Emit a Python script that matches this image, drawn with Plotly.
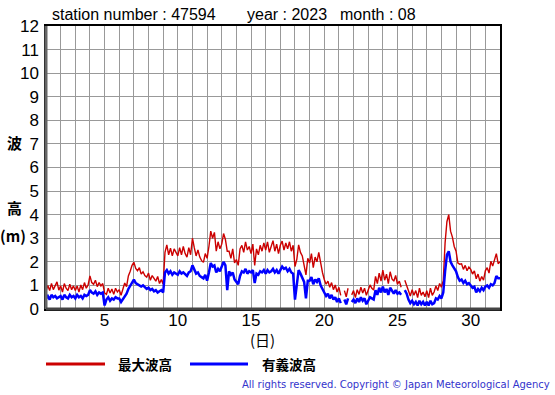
import numpy as np
import plotly.graph_objects as go

# 3-hourly values, Aug 1 00h .. Sep 1 00h (day-of-month axis 1..32)
hmax = [
    0.75, 1.00, 0.78, 1.08, 0.82, 0.98, 1.15, 0.80,   # 1
    0.98, 0.72, 1.08, 0.88, 0.78, 1.05, 0.82, 0.98,   # 2
    0.78, 0.98, 0.72, 1.02, 0.82, 1.12, 0.88, 1.02,   # 3
    1.40, 1.12, 1.05, 1.22, 0.95, 1.12, 0.98, 1.08,   # 4
    0.68, 0.62, 0.88, 0.68, 0.85, 0.62, 0.88, 0.72,   # 5
    0.82, 0.58, 0.88, 1.10, 0.95, 1.40, 1.60, 1.85,   # 6
    1.98, 1.72, 1.62, 1.75, 1.48, 1.58, 1.42, 1.35,   # 7
    1.52, 1.22, 1.42, 1.28, 1.18, 1.38, 1.08, 1.25,   # 8
    1.05, 2.40, 2.72, 2.30, 2.58, 2.25, 2.55, 2.40,   # 9
    2.25, 2.60, 2.30, 2.65, 2.35, 2.20, 2.60, 2.30,   # 10
    3.00, 2.60, 2.25, 2.50, 2.20, 2.05, 1.98, 2.35,   # 11
    2.15, 2.65, 3.30, 3.00, 3.25, 2.45, 2.85, 2.55,   # 12
    2.75, 3.20, 2.95, 2.45, 2.45, 2.15, 2.55, 1.95,   # 13
    2.10, 1.85, 2.55, 2.70, 2.40, 2.85, 2.50, 2.65,   # 14
    2.35, 2.75, 1.85, 2.55, 2.30, 2.70, 2.45, 2.80,   # 15
    2.50, 2.85, 2.40, 2.65, 2.90, 2.45, 2.75, 2.35,   # 16
    2.70, 2.88, 2.50, 2.80, 2.55, 2.85, 2.45, 2.70,   # 17
    1.80, 2.10, 2.72, 2.40, 2.25, 1.85, 1.45, 2.15,   # 18
    1.95, 2.35, 1.75, 2.20, 2.00, 2.40, 1.90, 1.55,   # 19
    1.25, 1.05, 1.18, 0.92, 1.12, 0.82, 1.02, 0.72,   # 20
    0.92, 0.58, None, 0.78, 0.52, 0.88, None, 0.60,   # 21
    0.78, 0.48, 0.82, 0.62, 0.92, 0.68, 0.88, 0.58,   # 22
    0.78, 1.02, 0.88, 0.80, 1.38, 1.08, 1.52, 1.18,   # 23
    1.65, 1.22, 1.48, 1.08, 1.58, 1.28, 1.18, 1.42,   # 24
    1.05, 1.18, 0.92, None, 1.22, 1.02, 0.80, 0.55,   # 25
    0.82, 0.58, 0.78, 0.48, 0.88, 0.58, 0.72, 0.52,   # 26
    0.78, 0.48, 0.88, 0.58, 0.72, 0.98, 0.78, 1.08,   # 27
    0.92, 1.20, 2.80, 3.70, 4.00, 3.30, 3.05, 2.65,   # 28
    2.45, 1.95, 1.90, 1.92, 1.68, 1.85, 1.62, 1.78,   # 29
    1.68, 1.48, 1.62, 1.28, 1.48, 1.18, 1.38, 1.22,   # 30
    1.62, 1.75, 1.52, 2.02, 1.82, 2.12, 2.35, 1.92,   # 31
    2.00,
]
hsig = [
    0.45, 0.55, 0.40, 0.60, 0.50, 0.55, 0.45, 0.50,   # 1
    0.55, 0.40, 0.60, 0.50, 0.45, 0.60, 0.50, 0.55,   # 2
    0.45, 0.60, 0.50, 0.55, 0.45, 0.60, 0.55, 0.60,   # 3
    0.80, 0.70, 0.65, 0.75, 0.60, 0.70, 0.65, 0.70,   # 4
    0.15, 0.40, 0.50, 0.35, 0.45, 0.40, 0.50, 0.45,   # 5
    0.45, 0.30, 0.40, 0.55, 0.65, 0.85, 1.00, 1.15,   # 6
    1.25, 1.10, 1.05, 1.00, 0.95, 1.00, 0.90, 0.85,   # 7
    0.90, 0.80, 0.85, 0.75, 0.80, 0.70, 0.75, 0.80,   # 8
    0.70, 1.55, 1.65, 1.50, 1.60, 1.45, 1.55, 1.50,   # 9
    1.45, 1.60, 1.50, 1.55, 1.45, 1.40, 1.55, 1.60,   # 10
    1.85, 1.70, 1.50, 1.55, 1.40, 1.35, 1.30, 1.45,   # 11
    1.20, 1.55, 1.95, 1.80, 1.85, 1.55, 1.70, 1.60,   # 12
    1.80, 2.00, 1.85, 0.80, 1.60, 1.45, 1.55, 1.25,   # 13
    1.15, 1.05, 1.40, 1.60, 1.55, 1.70, 1.50, 1.60,   # 14
    1.55, 1.65, 1.10, 1.50, 1.45, 1.60, 1.55, 1.65,   # 15
    1.50, 1.65, 1.55, 1.60, 1.70, 1.55, 1.65, 1.50,   # 16
    1.65, 1.80, 1.70, 1.75, 1.60, 1.70, 1.55, 1.50,   # 17
    0.40, 1.10, 1.65, 1.50, 1.30, 1.15, 0.45, 1.20,   # 18
    1.20, 1.35, 1.05, 1.25, 1.15, 1.30, 1.00, 0.85,   # 19
    0.70, 0.55, 0.65, 0.45, 0.60, 0.40, 0.50, 0.30,   # 20
    0.45, 0.25, None, 0.40, 0.20, 0.45, None, 0.30,   # 21
    0.40, 0.25, 0.45, 0.30, 0.50, 0.35, 0.45, 0.20,   # 22
    0.35, 0.50, 0.45, 0.40, 0.80, 0.60, 0.90, 0.70,   # 23
    0.95, 0.70, 0.85, 0.60, 0.90, 0.75, 0.65, 0.80,   # 24
    0.65, 0.70, 0.60, None, 0.80, 0.65, 0.40, 0.25,   # 25
    0.35, 0.20, 0.30, 0.15, 0.35, 0.20, 0.30, 0.15,   # 26
    0.30, 0.15, 0.35, 0.20, 0.25, 0.45, 0.40, 0.55,   # 27
    0.45, 0.70, 1.60, 2.30, 2.45, 2.00, 1.85, 1.70,   # 28
    1.60, 1.35, 1.20, 1.25, 1.10, 1.20, 1.05, 1.10,   # 29
    1.00, 0.90, 0.95, 0.70, 0.85, 0.75, 0.90, 0.80,   # 30
    0.95, 1.00, 0.90, 1.05, 1.00, 1.10, 1.40, 1.30,   # 31
    1.30,
]
day_ticks = list(range(1, 33))
day_labels = [str(d) if d % 5 == 0 else "" for d in day_ticks]
y_ticks = list(range(0, 13))

station = "47594"
year = "2023"
month = "08"

x = 1 + np.arange(len(hmax)) / 8.0

FONT = "Liberation Sans, Arial, sans-serif"
CJK = "Noto Sans CJK JP, sans-serif"

fig = go.Figure()
fig.add_trace(go.Scatter(x=x, y=hmax, mode="lines", line=dict(color="#cc0000", width=1.4),
                         connectgaps=False, showlegend=False))
fig.add_trace(go.Scatter(x=x, y=hsig, mode="lines", line=dict(color="#0000ff", width=2.5),
                         connectgaps=False, showlegend=False))

fig.update_layout(
    width=555, height=395,
    margin=dict(l=46, r=55, t=26, b=86),
    paper_bgcolor="white", plot_bgcolor="white",
    font=dict(family=FONT, color="black"),
    xaxis=dict(range=[1, 32], tickvals=day_ticks, ticktext=day_labels, showgrid=True,
               gridcolor="#999999", gridwidth=1, zeroline=False, showline=True,
               linecolor="black", linewidth=1.5, mirror=True, ticks="",
               tickfont=dict(size=17, family=FONT), fixedrange=True, automargin=False,
               ticklabelstandoff=-5),
    yaxis=dict(range=[0, 12], tickvals=y_ticks, showgrid=True, gridcolor="#999999",
               gridwidth=1, zeroline=False, showline=True, linecolor="black",
               linewidth=1.5, mirror=True, ticks="", tickfont=dict(size=17, family=FONT),
               ticklabelstandoff=2, fixedrange=True, automargin=False),
)

W, H = 454.0, 283.0
def px(xp):
    return (xp - 46) / W
def py(yp):
    return (309 - yp) / H

shapes = [
    dict(type="line", xref="paper", yref="paper", x0=0, x1=0, y0=0, y1=1,
         line=dict(color="#666666", width=3)),
    dict(type="line", xref="paper", yref="paper", x0=0, x1=1, y0=0, y1=0,
         line=dict(color="#444444", width=3)),
    dict(type="line", xref="paper", yref="paper", x0=px(46), x1=px(105), y0=py(364), y1=py(364),
         line=dict(color="#cc0000", width=3)),
    dict(type="line", xref="paper", yref="paper", x0=px(190), x1=px(248), y0=py(364), y1=py(364),
         line=dict(color="#0000ff", width=3)),
]
fig.update_layout(shapes=shapes)

ann = [
    dict(text=f"station number : {station}", x=px(50), y=py(15), xanchor="left", yanchor="middle",
         font=dict(size=16, family=FONT)),
    dict(text=f"year : {year}", x=px(245), y=py(15), xanchor="left", yanchor="middle",
         font=dict(size=16, family=FONT)),
    dict(text=f"month : {month}", x=px(338), y=py(15), xanchor="left", yanchor="middle",
         font=dict(size=16, family=FONT)),
    dict(text="<b>波</b>", x=px(14), y=py(142), xanchor="center", yanchor="middle",
         font=dict(size=15, family=CJK)),
    dict(text="<b>高</b>", x=px(14), y=py(207), xanchor="center", yanchor="middle",
         font=dict(size=15, family=CJK)),
    dict(text="<b>(m)</b>", x=px(13), y=py(236), xanchor="center", yanchor="middle",
         font=dict(size=15, family=CJK)),
    dict(text="(日)", x=px(262), y=py(339), xanchor="center", yanchor="middle",
         font=dict(size=15, family=CJK)),
    dict(text="<b>最大波高</b>", x=px(116), y=py(364), xanchor="left", yanchor="middle",
         font=dict(size=13.5, family=CJK)),
    dict(text="<b>有義波高</b>", x=px(260), y=py(364), xanchor="left", yanchor="middle",
         font=dict(size=13.5, family=CJK)),
    dict(text="All rights reserved. Copyright © Japan Meteorological Agency", x=px(552), y=py(384),
         xanchor="right", yanchor="middle", font=dict(size=10, family="DejaVu Sans", color="#3333cc")),
]
for a in ann:
    a.update(xref="paper", yref="paper", showarrow=False)
fig.update_layout(annotations=ann)

fig.write_html("out.html", config={"displayModeBar": False},
               post_script="document.body.style.margin='0';")
